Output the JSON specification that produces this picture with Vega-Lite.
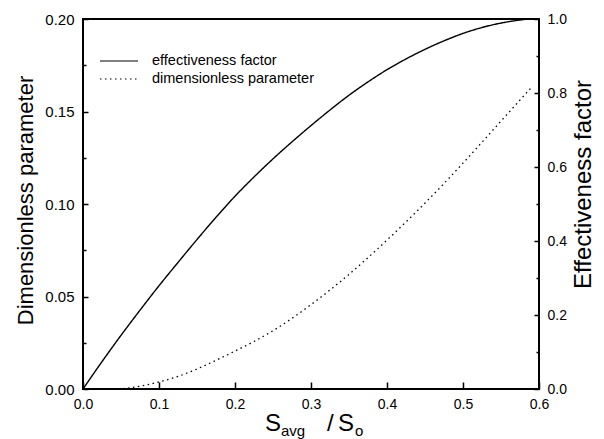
{
  "$schema": "https://vega.github.io/schema/vega-lite/v6.json",
  "width": 456,
  "height": 370,
  "autosize": "none",
  "padding": {"left": 83, "top": 19, "right": 65, "bottom": 50},
  "background": "white",
  "config": {
    "font": "Liberation Sans",
    "view": {"stroke": "black", "strokeWidth": 2},
    "axis": {
      "domain": false,
      "ticks": true,
      "tickColor": "black",
      "tickWidth": 1.5,
      "labelColor": "black",
      "titleColor": "black",
      "labelFont": "Liberation Sans",
      "titleFont": "Liberation Sans",
      "titleFontWeight": "normal",
      "grid": false,
      "labelOverlap": false,
      "labelFlush": false
    },
    "legend": {
      "title": null,
      "orient": "none",
      "legendX": 25.5,
      "legendY": 31.5,
      "padding": 0,
      "rowPadding": 1,
      "symbolType": "M-2,0H2",
      "symbolSize": 361,
      "symbolStrokeWidth": 1.2,
      "symbolStrokeColor": "black",
      "symbolFillColor": "transparent",
      "labelFont": "Liberation Sans",
      "labelFontSize": 14.5,
      "labelLimit": 400,
      "labelColor": "black",
      "labelOffset": 22.5
    }
  },
  "data": {
    "values": [
      {"s": 0.0, "series": "effectiveness factor", "value": 0.0},
      {"s": 0.025, "series": "effectiveness factor", "value": 0.074},
      {"s": 0.05, "series": "effectiveness factor", "value": 0.145},
      {"s": 0.075, "series": "effectiveness factor", "value": 0.213},
      {"s": 0.1, "series": "effectiveness factor", "value": 0.279},
      {"s": 0.125, "series": "effectiveness factor", "value": 0.342},
      {"s": 0.15, "series": "effectiveness factor", "value": 0.404},
      {"s": 0.175, "series": "effectiveness factor", "value": 0.464},
      {"s": 0.2, "series": "effectiveness factor", "value": 0.521},
      {"s": 0.225, "series": "effectiveness factor", "value": 0.573},
      {"s": 0.25, "series": "effectiveness factor", "value": 0.622},
      {"s": 0.275, "series": "effectiveness factor", "value": 0.668},
      {"s": 0.3, "series": "effectiveness factor", "value": 0.712},
      {"s": 0.325, "series": "effectiveness factor", "value": 0.754},
      {"s": 0.35, "series": "effectiveness factor", "value": 0.794},
      {"s": 0.375, "series": "effectiveness factor", "value": 0.83},
      {"s": 0.4, "series": "effectiveness factor", "value": 0.863},
      {"s": 0.425, "series": "effectiveness factor", "value": 0.892},
      {"s": 0.45, "series": "effectiveness factor", "value": 0.918},
      {"s": 0.475, "series": "effectiveness factor", "value": 0.941},
      {"s": 0.5, "series": "effectiveness factor", "value": 0.961},
      {"s": 0.525, "series": "effectiveness factor", "value": 0.977},
      {"s": 0.55, "series": "effectiveness factor", "value": 0.989},
      {"s": 0.585, "series": "effectiveness factor", "value": 1.0},
      {"s": 0.0, "series": "dimensionless parameter", "value": 0.0},
      {"s": 0.025, "series": "dimensionless parameter", "value": 0.0},
      {"s": 0.05, "series": "dimensionless parameter", "value": 0.0002},
      {"s": 0.075, "series": "dimensionless parameter", "value": 0.0015},
      {"s": 0.1, "series": "dimensionless parameter", "value": 0.0038},
      {"s": 0.125, "series": "dimensionless parameter", "value": 0.0068},
      {"s": 0.15, "series": "dimensionless parameter", "value": 0.0108},
      {"s": 0.175, "series": "dimensionless parameter", "value": 0.0155},
      {"s": 0.2, "series": "dimensionless parameter", "value": 0.0205},
      {"s": 0.225, "series": "dimensionless parameter", "value": 0.0257},
      {"s": 0.25, "series": "dimensionless parameter", "value": 0.0315},
      {"s": 0.275, "series": "dimensionless parameter", "value": 0.0382},
      {"s": 0.3, "series": "dimensionless parameter", "value": 0.0456},
      {"s": 0.325, "series": "dimensionless parameter", "value": 0.0535},
      {"s": 0.35, "series": "dimensionless parameter", "value": 0.062},
      {"s": 0.375, "series": "dimensionless parameter", "value": 0.071},
      {"s": 0.4, "series": "dimensionless parameter", "value": 0.0805},
      {"s": 0.425, "series": "dimensionless parameter", "value": 0.0903},
      {"s": 0.45, "series": "dimensionless parameter", "value": 0.1005},
      {"s": 0.475, "series": "dimensionless parameter", "value": 0.1111},
      {"s": 0.5, "series": "dimensionless parameter", "value": 0.1221},
      {"s": 0.525, "series": "dimensionless parameter", "value": 0.1334},
      {"s": 0.55, "series": "dimensionless parameter", "value": 0.1448},
      {"s": 0.575, "series": "dimensionless parameter", "value": 0.1562},
      {"s": 0.59, "series": "dimensionless parameter", "value": 0.163}
    ]
  },
  "layer": [
    {
      "transform": [{"filter": "datum.series == 'effectiveness factor'"}],
      "mark": {"type": "line", "color": "black", "strokeWidth": 1.4, "interpolate": "monotone"},
      "encoding": {
        "x": {
          "field": "s",
          "type": "quantitative",
          "scale": {"domain": [0, 0.6], "nice": false},
          "axis": {
            "title": null,
            "offset": -7,
            "values": [0, 0.05, 0.1, 0.15, 0.2, 0.25, 0.3, 0.35, 0.4, 0.45, 0.5, 0.55, 0.6],
            "labelExpr": "round(datum.value * 20) % 2 == 0 ? format(datum.value, '.1f') : ''",
            "tickSize": 7,
            "tickDash": {"condition": {"test": "round(datum.value * 20) % 2 == 1", "value": [0, 3, 4, 100]}, "value": [20, 0]},
            "labelFontSize": 14,
            "labelPadding": 8
          }
        },
        "y": {
          "field": "value",
          "type": "quantitative",
          "scale": {"domain": [0, 1], "nice": false},
          "axis": {
            "orient": "right",
            "offset": -5,
            "title": "Effectiveness factor",
            "titleFontSize": 24,
            "titleAngle": 270,
            "titleAlign": "center",
            "titleBaseline": "middle",
            "titleX": 49.5,
            "titleY": 165,
            "values": [0, 0.1, 0.2, 0.3, 0.4, 0.5, 0.6, 0.7, 0.8, 0.9, 1.0],
            "labelExpr": "round(datum.value * 10) % 2 == 0 ? format(datum.value, '.1f') : ''",
            "tickSize": 5,
            "tickDash": {"condition": {"test": "round(datum.value * 10) % 2 == 1", "value": [0, 2, 3, 100]}, "value": [20, 0]},
            "labelFontSize": 14,
            "labelPadding": 8
          }
        },
        "strokeDash": {
          "field": "series",
          "type": "nominal",
          "scale": {
            "domain": ["effectiveness factor", "dimensionless parameter"],
            "range": [[1, 0], [1.5, 3.5]]
          }
        }
      }
    },
    {
      "layer": [
        {
          "transform": [{"filter": "datum.series == 'dimensionless parameter'"}],
          "mark": {"type": "line", "color": "black", "strokeWidth": 1.3, "interpolate": "monotone"},
          "encoding": {
            "x": {"field": "s", "type": "quantitative", "scale": {"domain": [0, 0.6], "nice": false}},
            "y": {
              "field": "value",
              "type": "quantitative",
              "scale": {"domain": [0, 0.2], "nice": false},
              "axis": {
                "orient": "left",
                "offset": -5,
                "title": "Dimensionless parameter",
                "titleFontSize": 22,
                "titleAngle": 270,
                "titleAlign": "center",
                "titleBaseline": "middle",
                "titleX": -63,
                "titleY": 181,
                "values": [0, 0.025, 0.05, 0.075, 0.1, 0.125, 0.15, 0.175, 0.2],
                "labelExpr": "round(datum.value * 40) % 2 == 0 ? format(datum.value, '.2f') : ''",
                "tickSize": 5,
                "tickDash": {"condition": {"test": "round(datum.value * 40) % 2 == 1", "value": [0, 2, 3, 100]}, "value": [20, 0]},
                "labelFontSize": 15,
                "labelPadding": 9
              }
            },
            "strokeDash": {
              "field": "series",
              "type": "nominal",
              "scale": {
                "domain": ["effectiveness factor", "dimensionless parameter"],
                "range": [[1, 0], [1.5, 3.5]]
              }
            }
          }
        },
        {
          "data": {"values": [{}]},
          "mark": {"type": "text", "text": "S", "fontSize": 24, "align": "left", "baseline": "alphabetic", "color": "black", "font": "Liberation Sans"},
          "encoding": {
            "x": {"datum": 0.2395, "type": "quantitative"},
            "y": {"datum": -0.0227, "type": "quantitative"}
          }
        },
        {
          "data": {"values": [{}]},
          "mark": {"type": "text", "text": "avg", "fontSize": 15, "align": "left", "baseline": "alphabetic", "dx": 16, "color": "black", "font": "Liberation Sans"},
          "encoding": {
            "x": {"datum": 0.2395, "type": "quantitative"},
            "y": {"datum": -0.0254, "type": "quantitative"}
          }
        },
        {
          "data": {"values": [{}]},
          "mark": {"type": "text", "text": "/", "fontSize": 24, "align": "left", "baseline": "alphabetic", "dx": 62, "color": "black", "font": "Liberation Sans"},
          "encoding": {
            "x": {"datum": 0.2395, "type": "quantitative"},
            "y": {"datum": -0.0227, "type": "quantitative"}
          }
        },
        {
          "data": {"values": [{}]},
          "mark": {"type": "text", "text": "S", "fontSize": 24, "align": "left", "baseline": "alphabetic", "dx": 73, "color": "black", "font": "Liberation Sans"},
          "encoding": {
            "x": {"datum": 0.2395, "type": "quantitative"},
            "y": {"datum": -0.0227, "type": "quantitative"}
          }
        },
        {
          "data": {"values": [{}]},
          "mark": {"type": "text", "text": "o", "fontSize": 15, "align": "left", "baseline": "alphabetic", "dx": 90, "color": "black", "font": "Liberation Sans"},
          "encoding": {
            "x": {"datum": 0.2395, "type": "quantitative"},
            "y": {"datum": -0.0254, "type": "quantitative"}
          }
        }
      ]
    }
  ],
  "resolve": {"scale": {"y": "independent"}}
}
